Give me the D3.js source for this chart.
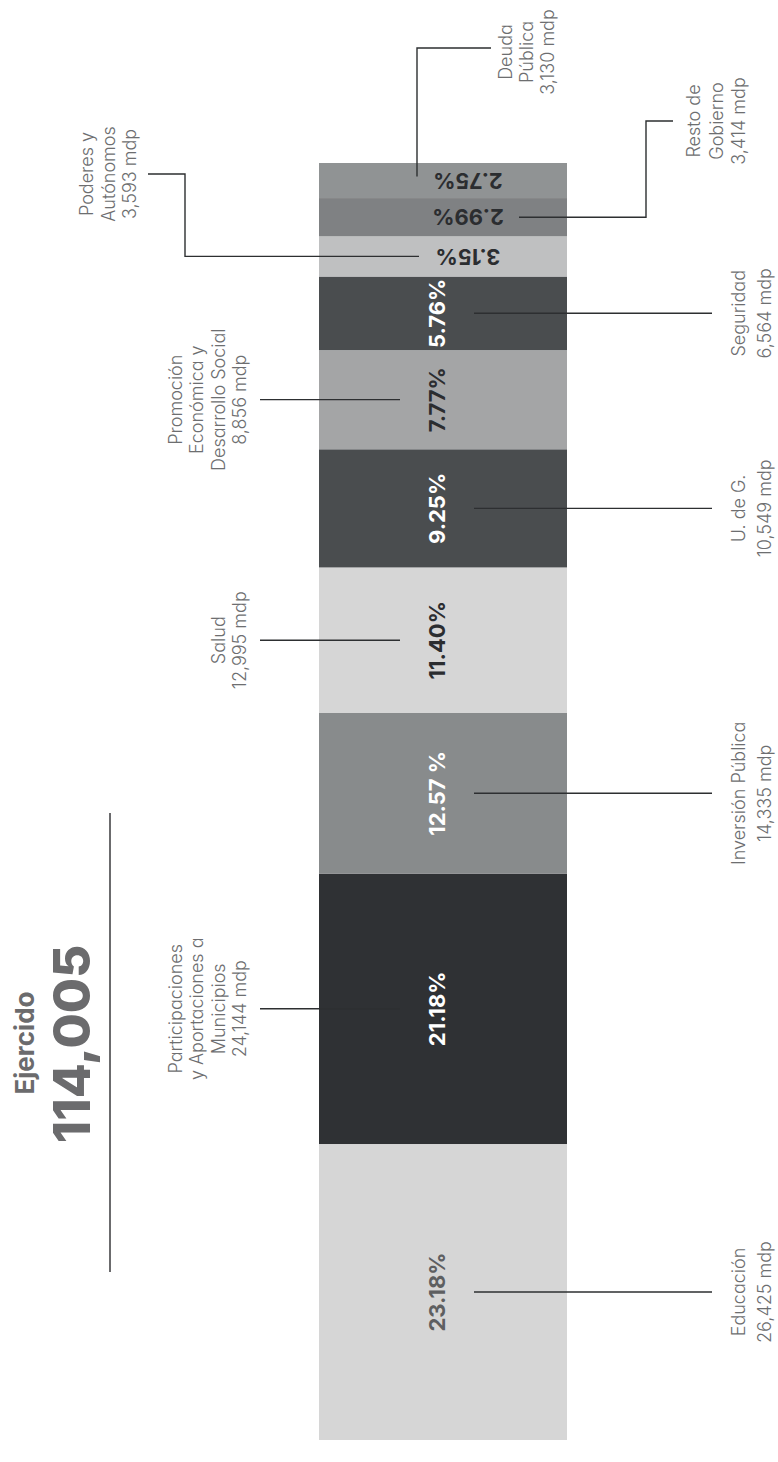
<!DOCTYPE html>
<html>
<head>
<meta charset="utf-8">
<script src="https://cdn.jsdelivr.net/npm/d3@7"></script>
<style>
  html, body { margin: 0; padding: 0; background: #ffffff; }
  svg { display: block; font-family: Inter, "Noto Sans", sans-serif; font-feature-settings: "cv11" 1; }
</style>
</head>
<body>
<svg id="chart" width="778" height="1462"></svg>
<script>
// ---------------- data ----------------
const categories = [
  "Educación",
  "Participaciones y Aportaciones a Municipios",
  "Inversión Pública",
  "Salud",
  "U. de G.",
  "Promoción Económica y Desarrollo Social",
  "Seguridad",
  "Poderes y Autónomos",
  "Resto de Gobierno",
  "Deuda Pública"
];
const labelLines = [
  ["Educación"],
  ["Participaciones", "y Aportaciones a", "Municipios"],
  ["Inversión Pública"],
  ["Salud"],
  ["U. de G."],
  ["Promoción", "Económica y", "Desarrollo Social"],
  ["Seguridad"],
  ["Poderes y", "Autónomos"],
  ["Resto de", "Gobierno"],
  ["Deuda", "Pública"]
];
const values = [26425, 24144, 14335, 12995, 10549, 8856, 6564, 3593, 3414, 3130];
const percentLabels = ["23.18%", "21.18%", "12.57 %", "11.40%", "9.25%", "7.77%", "5.76%", "3.15%", "2.99%", "2.75%"];
const titleLabel = "Ejercido";
const unit = "mdp";

// ---------------- styles / layout ----------------
const fills = ["#d6d6d6", "#2f3134", "#888b8c", "#d6d6d6", "#4a4d4f", "#a4a5a6", "#4a4d4f", "#bfc0c1", "#7f8183", "#909394"];
const pctColors = ["#5e5f61", "#ffffff", "#ffffff", "#2b2d30", "#ffffff", "#2b2d30", "#ffffff", "#2b2d30", "#2b2d30", "#2b2d30"];
// side: "R" right straight, "L" left straight, "T" callout with elbow
const layout = [
  {side: "R"}, {side: "L"}, {side: "R"}, {side: "L"}, {side: "R"},
  {side: "L"}, {side: "R"},
  {side: "TL", elbowX: 185, labelY: 174, endX: 148, startX: 419, lastBase: 136, lh: 21.5},
  {side: "TR", elbowX: 646, labelY: 121, endX: 673, startX: 519, firstBase: 700, lh: 22.5},
  {side: "TU", elbowX: 417, labelY: 48, endX: 491, firstBase: 512, lh: 21}
];
const flipped = [false, false, false, false, false, false, false, true, true, true];

const W = 778, H = 1462;
const barX0 = 319, barX1 = 567, barTop = 163, barBottom = 1440;
const labelColor = "#6d6e70";
const lineColor = "#2d2f31";

const svg = d3.select("#chart");

const total = d3.sum(values);
const cum = d3.cumsum(values);
const y = d3.scaleLinear().domain([0, total]).range([barBottom, barTop]);

const segs = values.map((v, i) => ({
  i, v,
  y0: y(cum[i] - v),
  y1: y(cum[i]),
}));
segs.forEach(s => s.yc = (s.y0 + s.y1) / 2);

// bars
svg.append("g").selectAll("rect").data(segs).join("rect")
  .attr("x", barX0)
  .attr("width", barX1 - barX0)
  .attr("y", d => d.y1)
  .attr("height", d => d.y0 - d.y1)
  .attr("fill", d => fills[d.i]);

// percent labels
svg.append("g").selectAll("text").data(segs).join("text")
  .attr("transform", d => flipped[d.i]
      ? `translate(468,${d.yc}) rotate(180)`
      : `translate(437.5,${d.yc}) rotate(-90)`)
  .attr("text-anchor", "middle")
  .attr("dy", "0.35em")
  .attr("font-size", 22)
  .attr("font-weight", 700)
  .attr("fill", d => pctColors[d.i])
  .text(d => percentLabels[d.i]);

// rotated multi-line helper: lines stack left -> right
function rotText(g, lastBaseX, cy, lines, lh, opts) {
  const t = g.append("text")
    .attr("transform", `translate(${lastBaseX - (lines.length - 1) * lh},${cy}) rotate(-90)`)
    .attr("text-anchor", "middle")
    .attr("font-size", opts.size)
    .attr("font-weight", opts.weight)
    .attr("fill", opts.color);
  lines.forEach((ln, k) => {
    t.append("tspan").attr("x", 0).attr("y", k * lh).text(ln);
  });
  return t;
}

const fmt = d3.format(",");
const gl = svg.append("g");
const lblOpts = {size: 18, weight: 300, color: labelColor};

segs.forEach(s => {
  const L = layout[s.i];
  const lines = labelLines[s.i].concat([fmt(values[s.i]) + " " + unit]);
  if (L.side === "R") {
    gl.append("line").attr("x1", 474).attr("x2", 712).attr("y1", s.yc).attr("y2", s.yc)
      .attr("stroke", lineColor).attr("stroke-width", 1.4);
    rotText(gl, 745 + (lines.length - 1) * 26, s.yc, lines, 26, lblOpts);
  } else if (L.side === "L") {
    gl.append("line").attr("x1", 260).attr("x2", 400).attr("y1", s.yc).attr("y2", s.yc)
      .attr("stroke", lineColor).attr("stroke-width", 1.4);
    rotText(gl, 246, s.yc, lines, 21.5, lblOpts);
  } else if (L.side === "TL") {
    gl.append("path")
      .attr("d", `M${L.startX},${s.yc}H${L.elbowX}V${L.labelY}H${L.endX}`)
      .attr("fill", "none").attr("stroke", lineColor).attr("stroke-width", 1.4);
    rotText(gl, L.lastBase, L.labelY, lines, L.lh, lblOpts);
  } else if (L.side === "TR") {
    gl.append("path")
      .attr("d", `M${L.startX},${s.yc}H${L.elbowX}V${L.labelY}H${L.endX}`)
      .attr("fill", "none").attr("stroke", lineColor).attr("stroke-width", 1.4);
    rotText(gl, L.firstBase + (lines.length - 1) * L.lh, L.labelY, lines, L.lh, lblOpts);
  } else if (L.side === "TU") {
    gl.append("path")
      .attr("d", `M${L.elbowX},${s.yc - 4}V${L.labelY}H${L.endX}`)
      .attr("fill", "none").attr("stroke", lineColor).attr("stroke-width", 1.4);
    rotText(gl, L.firstBase + (lines.length - 1) * L.lh, L.labelY + 4, lines, L.lh, lblOpts);
  }
});

// title block
const tg = svg.append("g");
tg.append("line").attr("x1", 110).attr("x2", 110).attr("y1", 813).attr("y2", 1272)
  .attr("stroke", "#6b6b6d").attr("stroke-width", 2);
tg.append("text")
  .attr("transform", "translate(34,1043) rotate(-90)")
  .attr("text-anchor", "middle")
  .attr("font-size", 26).attr("font-weight", 700).attr("fill", "#6b6b6d")
  .text(titleLabel);
tg.append("text")
  .attr("transform", "translate(90,1044) rotate(-90)")
  .attr("text-anchor", "middle")
  .attr("font-size", 51).attr("font-weight", 800).attr("fill", "#6b6b6d")
  .text(fmt(total));
</script>
</body>
</html>
